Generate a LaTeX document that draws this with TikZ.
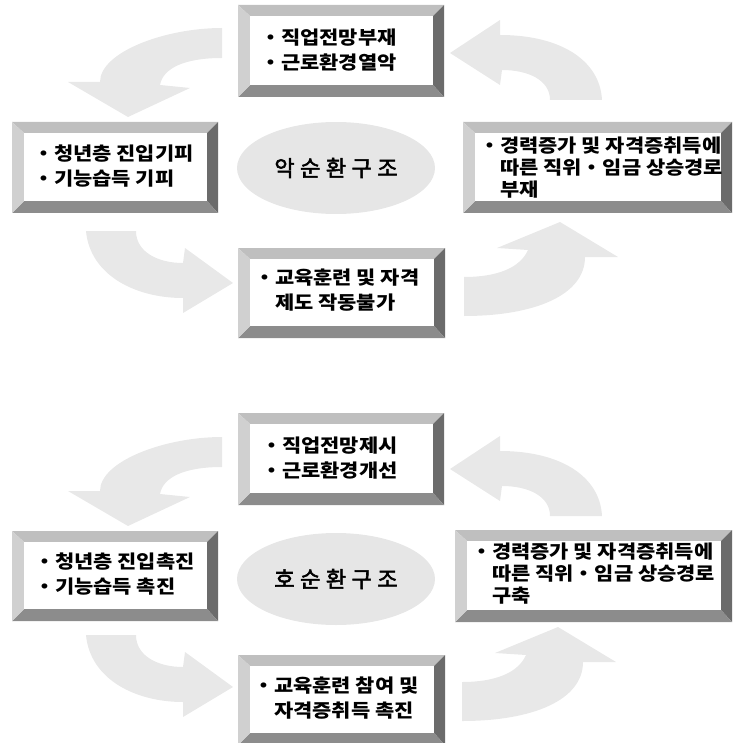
\documentclass[tikz,border=0pt]{standalone}
\usepackage{fontspec}
\usepackage{graphicx}
\newfontfamily\krfont{Noto Sans CJK KR}
\usetikzlibrary{calc,fit,shapes.geometric}
\definecolor{arrowgray}{HTML}{E8E8E8}
\definecolor{ellgray}{HTML}{E6E6E6}
\definecolor{bevT}{HTML}{BFBFBF}
\definecolor{bevL}{HTML}{D0D0D0}
\definecolor{bevR}{HTML}{6B6B6B}
\definecolor{bevB}{HTML}{8C8C8C}
\newcommand{\mdot}{\makebox[0.55em][c]{・}}
\newcommand{\gp}{\hspace{5.5pt}}
\newcommand{\btxt}[1]{\scalebox{1.13}[1]{\begin{tabular}{@{}l@{}}#1\end{tabular}}}
\newcommand{\heavy}[1]{\special{pdf:literal direct 2 Tr 0.55 w}#1\special{pdf:literal direct 0 Tr}}
\newcommand{\bevbox}[5]{%
  \coordinate (#1-a) at (#2,#3);
  \coordinate (#1-b) at (#4,#3);
  \coordinate (#1-c) at (#4,#5);
  \coordinate (#1-d) at (#2,#5);
  \coordinate (#1-ia) at ($(#1-a)+(12,11)$);
  \coordinate (#1-ib) at ($(#1-b)+(-11,11)$);
  \coordinate (#1-ic) at ($(#1-c)+(-11,-12)$);
  \coordinate (#1-id) at ($(#1-d)+(12,-12)$);
  \fill[bevT] (#1-a) -- (#1-b) -- (#1-ib) -- (#1-ia) -- cycle;
  \fill[bevR] (#1-b) -- (#1-c) -- (#1-ic) -- (#1-ib) -- cycle;
  \fill[bevB] (#1-c) -- (#1-d) -- (#1-id) -- (#1-ic) -- cycle;
  \fill[bevL] (#1-d) -- (#1-a) -- (#1-ia) -- (#1-id) -- cycle;
  \node[fit=(#1-ia)(#1-ic), inner sep=0, fill=white] (#1) {};
}
\tikzset{
  boxtext/.style={anchor=west, inner sep=0,
    font=\krfont\bfseries\fontsize{18.5}{25}\selectfont},
  boxtextthree/.style={boxtext, font=\krfont\bfseries\fontsize{18.5}{21.5}\selectfont},
  cyc/.style={ellipse, fill=ellgray, inner sep=0, minimum width=198, minimum height=92,
    font=\krfont\fontsize{22}{24}\selectfont},
  arr/.style={fill=arrowgray}
}
\begin{document}
\begin{tikzpicture}[x=1pt,y=-1pt]
\useasboundingbox (0,0) rectangle (732,743);
\clip (0,0) rectangle (732,743);
% ===== top diagram =====
\fill[arr] (222,28) .. controls (165,28) and (100,52) .. (100,82) -- (68,82) -- (128,117) -- (190,88) -- (160,85) .. controls (163,68) and (185,58) .. (222,58) -- cycle;
\fill[arr] (602,100) .. controls (600,60) and (560,35) .. (500,35) -- (500,20) -- (450,53) -- (500,85) -- (502,70) .. controls (528,70) and (550,80) .. (550,100) -- cycle;
\fill[arr] (86,231) .. controls (90,275) and (135,298) .. (183,298) -- (183,313) -- (233,283) -- (185,248) -- (183,263) .. controls (158,263) and (136,252) .. (136,231) -- cycle;
\fill[arr] (464,316) .. controls (535,316) and (585,295) .. (585,257) -- (618,257) -- (560,222) -- (497,248) -- (528,250) .. controls (520,268) and (497,277) .. (464,277) -- cycle;
\bevbox{T1}{238}{5}{444}{97}
\bevbox{L1}{12}{122}{218}{213}
\bevbox{R1}{463}{122}{732}{213}
\bevbox{D1}{238}{248}{445}{338}
\node[boxtext] (t1) at (260,52) {\btxt{・직업전망부재\\・근로환경열악}};
\node[boxtext] (l1) at (33,168) {\btxt{・청년층 진입기피\\・기능습득 기피}};
\node[boxtextthree] (r1) at (479,170) {\btxt{・경력증가 및 자격증취득에\\\phantom{・}따른 직위 \mdot{} 임금 상승경로\\\phantom{・}부재}};
\node[boxtext] (d1) at (254,292) {\btxt{・교육훈련 및 자격\\\phantom{・}제도 작동불가}};
\node[cyc] (e1) at (336,168) {\heavy{악\gp 순\gp 환\gp 구\gp 조}};
% ===== bottom diagram =====
\fill[arr] (222,437) .. controls (165,437) and (100,461) .. (100,491) -- (68,491) -- (128,526) -- (190,497) -- (160,494) .. controls (163,477) and (185,467) .. (222,467) -- cycle;
\fill[arr] (602,516) .. controls (600,476) and (560,451) .. (500,451) -- (500,436) -- (450,469) -- (500,501) -- (502,486) .. controls (528,486) and (550,496) .. (550,516) -- cycle;
\fill[arr] (86,635) .. controls (90,679) and (135,702) .. (183,702) -- (183,717) -- (233,687) -- (185,652) -- (183,667) .. controls (158,667) and (136,656) .. (136,635) -- cycle;
\fill[arr] (462,721) .. controls (533,721) and (583,700) .. (583,662) -- (616,662) -- (558,627) -- (495,653) -- (526,655) .. controls (518,673) and (495,682) .. (462,682) -- cycle;
\bevbox{T2}{238}{413}{444}{505}
\bevbox{L2}{12}{531}{218}{621}
\bevbox{R2}{455}{530}{732}{622}
\bevbox{D2}{238}{655}{445}{745}
\node[boxtext] (t2) at (261,460) {\btxt{・직업전망제시\\・근로환경개선}};
\node[boxtext] (l2) at (34,576) {\btxt{・청년층 진입촉진\\・기능습득 촉진}};
\node[boxtextthree] (r2) at (471,576) {\btxt{・경력증가 및 자격증취득에\\\phantom{・}따른 직위 \mdot{} 임금 상승경로\\\phantom{・}구축}};
\node[boxtext] (d2) at (253,700) {\btxt{・교육훈련 참여 및\\\phantom{・}자격증취득 촉진}};
\node[cyc] (e2) at (336,579) {\heavy{호\gp 순\gp 환\gp 구\gp 조}};
\end{tikzpicture}
\end{document}
